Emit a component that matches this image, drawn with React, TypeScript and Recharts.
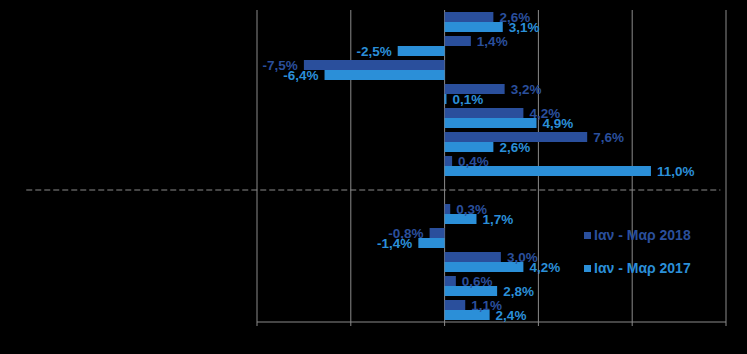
import {
  BarChart, Bar, XAxis, YAxis, CartesianGrid, Legend,
  ReferenceLine, LabelList,
} from 'recharts';

const categories = ['r1', 'r2', 'r3', 'r4', 'r5', 'r6', 'r7', 'gap', 'r8', 'r9', 'r10', 'r11', 'r12'];
const values2018 = [2.6, 1.4, -7.5, 3.2, 4.2, 7.6, 0.4, null, 0.3, -0.8, 3.0, 0.6, 1.1];
const values2017 = [3.1, -2.5, -6.4, 0.1, 4.9, 2.6, 11.0, null, 1.7, -1.4, 4.2, 2.8, 2.4];
const xTicks = [-10, -5, 0, 5, 10, 15];
const seriesNames = ['Ιαν - Μαρ 2018', 'Ιαν - Μαρ 2017'];

const DARK = '#2a4f9c';
const LIGHT = '#2b8fd8';
const GRID = '#8a8a8a';
const FONT = '"Liberation Sans", Arial, sans-serif';

const data = categories.map((name, i) => ({
  name,
  y2018: values2018[i],
  y2017: values2017[i],
}));

const fmt = (v: number) => v.toFixed(1).replace('.', ',') + '%';

function makeLabel(color: string) {
  return (props: any) => {
    const { x, y, width, height, value } = props;
    if (value === null || value === undefined) return null;
    const end = x + width;
    const neg = value < 0;
    return (
      <text
        x={neg ? end - 6 : end + 6}
        y={y + height / 2}
        dy="0.36em"
        textAnchor={neg ? 'end' : 'start'}
        fill={color}
        fontFamily={FONT}
        fontWeight="bold"
        fontSize={13.5}
      >
        {fmt(value)}
      </text>
    );
  };
}

function LegendBox() {
  const colors = [DARK, LIGHT];
  return (
    <div style={{ fontFamily: FONT, fontWeight: 'bold', fontSize: 14 }}>
      {seriesNames.map((n, i) => (
        <div key={n} style={{ display: 'flex', alignItems: 'center', height: 16, marginBottom: i === 0 ? 17 : 0, color: colors[i] }}>
          <span style={{ display: 'inline-block', width: 7, height: 7, background: colors[i], marginRight: 3 }} />
          {n}
        </div>
      ))}
    </div>
  );
}

export default function App() {
  return (
    <div style={{ position: 'absolute', left: 0, top: 0, width: 747, height: 354, background: '#000' }}>
      <BarChart
        width={747}
        height={354}
        data={data}
        layout="vertical"
        margin={{ top: 10, right: 21, left: 257, bottom: 2 }}
        barCategoryGap={2}
        barGap={0}
      >
        <CartesianGrid horizontal={false} stroke={GRID} />
        <XAxis
          type="number"
          domain={[-10, 15]}
          ticks={xTicks}
          tickFormatter={() => ''}
          axisLine={{ stroke: GRID }}
          tickLine={{ stroke: GRID }}
          tickSize={4}
          height={30}
        />
        <YAxis type="category" dataKey="name" hide width={0} />
        <ReferenceLine
          segment={[{ x: -22.3, y: 'gap' }, { x: 14.7, y: 'gap' }]}
          stroke={GRID}
          strokeDasharray="6 3"
          ifOverflow="visible"
        />
        <Legend
          layout="vertical"
          align="center"
          verticalAlign="middle"
          content={<LegendBox />}
          wrapperStyle={{ left: 584, top: 227, width: 'auto', height: 'auto' }}
        />
        <Bar dataKey="y2018" name={seriesNames[0]} fill={DARK} isAnimationActive={false}>
          <LabelList dataKey="y2018" content={makeLabel(DARK)} />
        </Bar>
        <Bar dataKey="y2017" name={seriesNames[1]} fill={LIGHT} isAnimationActive={false}>
          <LabelList dataKey="y2017" content={makeLabel(LIGHT)} />
        </Bar>
      </BarChart>
    </div>
  );
}
